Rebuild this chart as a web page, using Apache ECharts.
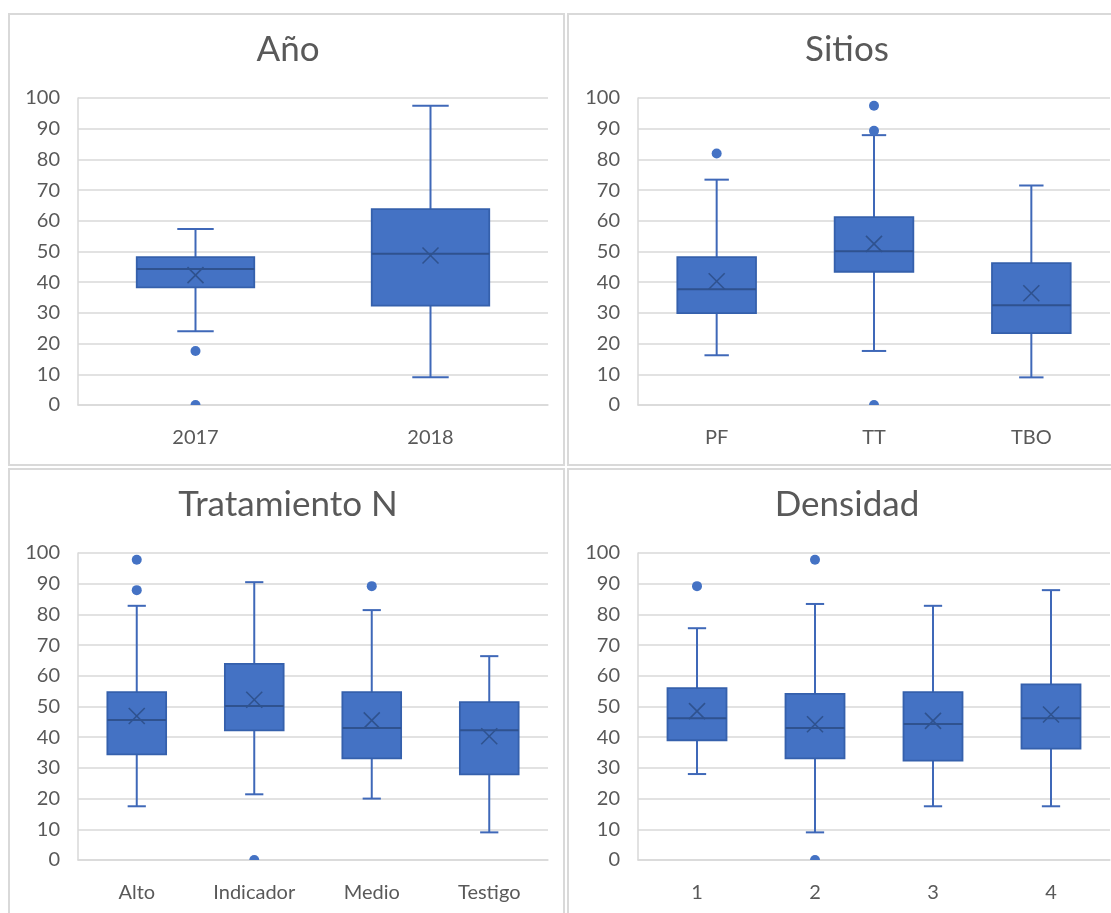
<!DOCTYPE html>
<html>
<head>
<meta charset="utf-8">
<script src="https://cdn.jsdelivr.net/npm/echarts@6/dist/echarts.min.js"></script>
<style>
  html, body { margin: 0; padding: 0; background: #fff; }
  #chart { width: 1111px; height: 913px; }
</style>
</head>
<body>
<div id="chart"></div>
<script>
// ---------- DATA ----------
const titles = ['Año', 'Sitios', 'Tratamiento N', 'Densidad'];
const yTicks = [0, 10, 20, 30, 40, 50, 60, 70, 80, 90, 100];

// Año
const anoCats = ['2017', '2018'];
const anoMin  = [24.0, 9.0];
const anoQ1   = [38.3, 32.4];
const anoMed  = [44.3, 49.3];
const anoQ3   = [48.2, 63.8];
const anoMax  = [57.3, 97.5];
const anoMean = [42.3, 48.7];
const anoOut  = [[0, 17.6], [0, 0]];

// Sitios
const sitCats = ['PF', 'TT', 'TBO'];
const sitMin  = [16.2, 17.6, 9.0];
const sitQ1   = [29.9, 43.4, 23.4];
const sitMed  = [37.7, 50.1, 32.5];
const sitQ3   = [48.2, 61.2, 46.2];
const sitMax  = [73.4, 87.9, 71.5];
const sitMean = [40.3, 52.5, 36.4];
const sitOut  = [[0, 81.9], [1, 97.5], [1, 89.3], [1, 0]];

// Tratamiento N
const traCats = ['Alto', 'Indicador', 'Medio', 'Testigo'];
const traMin  = [17.5, 21.4, 20.0, 9.0];
const traQ1   = [34.4, 42.2, 33.1, 27.9];
const traMed  = [45.6, 50.2, 43.0, 42.3];
const traQ3   = [54.7, 63.9, 54.7, 51.4];
const traMax  = [82.8, 90.5, 81.4, 66.4];
const traMean = [46.9, 52.2, 45.5, 40.3];
const traOut  = [[0, 97.8], [0, 87.9], [1, 0], [2, 89.2]];

// Densidad
const denCats = ['1', '2', '3', '4'];
const denMin  = [28.0, 9.0, 17.5, 17.5];
const denQ1   = [39.0, 33.1, 32.4, 36.3];
const denMed  = [46.2, 43.0, 44.3, 46.2];
const denQ3   = [56.0, 54.1, 54.7, 57.2];
const denMax  = [75.5, 83.4, 82.8, 87.9];
const denMean = [48.5, 44.2, 45.3, 47.4];
const denOut  = [[0, 89.2], [1, 97.8], [1, 0]];

// ---------- BUILD ----------
const panels = [
  { cats: anoCats, min: anoMin, q1: anoQ1, med: anoMed, q3: anoQ3, max: anoMax, mean: anoMean, out: anoOut },
  { cats: sitCats, min: sitMin, q1: sitQ1, med: sitMed, q3: sitQ3, max: sitMax, mean: sitMean, out: sitOut },
  { cats: traCats, min: traMin, q1: traQ1, med: traMed, q3: traQ3, max: traMax, mean: traMean, out: traOut },
  { cats: denCats, min: denMin, q1: denQ1, med: denMed, q3: denQ3, max: denMax, mean: denMean, out: denOut }
];

const FONT = 'Lato';
const TXT = '#595959';
const GRIDC = '#D9D9D9';
const FILL = '#4472C4';
const DARK = '#2F528F';
const WHISK = '#3F68B8';

const gridPos = [
  { left: 78,  top: 98,  width: 470, height: 307 },
  { left: 638, top: 98,  width: 472, height: 307 },
  { left: 78,  top: 553, width: 470, height: 307 },
  { left: 638, top: 553, width: 472, height: 307 }
];
const titlePos = [
  { x: 288, y: 51 }, { x: 847, y: 51 }, { x: 288, y: 506 }, { x: 847, y: 506 }
];

function renderBox(params, api) {
  const idx = api.value(0);
  const band = api.size([1, 0])[0];
  const bw = band * 0.5;
  const cw = band * 0.155;
  const pMin = api.coord([idx, api.value(1)]);
  const pQ1 = api.coord([idx, api.value(2)]);
  const pMed = api.coord([idx, api.value(3)]);
  const pQ3 = api.coord([idx, api.value(4)]);
  const pMax = api.coord([idx, api.value(5)]);
  const pMean = api.coord([idx, api.value(6)]);
  const x = pMin[0];
  const ws = { stroke: WHISK, lineWidth: 2 };
  const m = 8;
  return {
    type: 'group',
    children: [
      { type: 'line', shape: { x1: x, y1: pMax[1], x2: x, y2: pQ3[1] }, style: ws },
      { type: 'line', shape: { x1: x, y1: pQ1[1], x2: x, y2: pMin[1] }, style: ws },
      { type: 'line', shape: { x1: x - cw / 2, y1: pMax[1], x2: x + cw / 2, y2: pMax[1] }, style: ws },
      { type: 'line', shape: { x1: x - cw / 2, y1: pMin[1], x2: x + cw / 2, y2: pMin[1] }, style: ws },
      { type: 'rect', shape: { x: x - bw / 2, y: pQ3[1], width: bw, height: pQ1[1] - pQ3[1] },
        style: { fill: FILL, stroke: '#3560AC', lineWidth: 1.8 } },
      { type: 'line', shape: { x1: x - bw / 2, y1: pMed[1], x2: x + bw / 2, y2: pMed[1] },
        style: { stroke: DARK, lineWidth: 2 } },
      { type: 'line', shape: { x1: x - m, y1: pMean[1] - m, x2: x + m, y2: pMean[1] + m },
        style: { stroke: DARK, lineWidth: 1.6 } },
      { type: 'line', shape: { x1: x - m, y1: pMean[1] + m, x2: x + m, y2: pMean[1] - m },
        style: { stroke: DARK, lineWidth: 1.6 } }
    ]
  };
}

function renderOutlier(params, api) {
  const p = api.coord([api.value(0), api.value(1)]);
  return {
    type: 'circle',
    shape: { cx: p[0], cy: p[1], r: 5 },
    style: { fill: FILL }
  };
}

const option = {
  backgroundColor: '#fff',
  animation: false,
  title: titles.map((t, i) => ({
    text: t,
    left: titlePos[i].x,
    top: titlePos[i].y - 19,
    textAlign: 'center',
    padding: 0,
    textStyle: { fontFamily: FONT, fontSize: 35, fontWeight: 'normal', color: TXT }
  })),
  graphic: [
    { type: 'rect', shape: { x: 9, y: 14, width: 555, height: 451 }, style: { fill: 'none', stroke: GRIDC, lineWidth: 2 }, silent: true, z: -1 },
    { type: 'rect', shape: { x: 568, y: 14, width: 560, height: 451 }, style: { fill: 'none', stroke: GRIDC, lineWidth: 2 }, silent: true, z: -1 },
    { type: 'rect', shape: { x: 9, y: 469, width: 555, height: 470 }, style: { fill: 'none', stroke: GRIDC, lineWidth: 2 }, silent: true, z: -1 },
    { type: 'rect', shape: { x: 568, y: 469, width: 560, height: 470 }, style: { fill: 'none', stroke: GRIDC, lineWidth: 2 }, silent: true, z: -1 }
  ],
  grid: gridPos.map(g => Object.assign({ containLabel: false }, g)),
  xAxis: panels.map((p, i) => ({
    type: 'category',
    gridIndex: i,
    data: p.cats,
    axisLine: { lineStyle: { color: GRIDC, width: 1.5 } },
    axisTick: { show: false },
    axisLabel: { fontFamily: FONT, fontSize: 20, color: TXT, margin: 23 },
    splitLine: { show: false }
  })),
  yAxis: panels.map((p, i) => ({
    type: 'value',
    gridIndex: i,
    min: yTicks[0],
    max: yTicks[yTicks.length - 1],
    interval: 10,
    axisLine: { show: true, lineStyle: { color: GRIDC, width: 1.5 } },
    axisTick: { show: false },
    axisLabel: { fontFamily: FONT, fontSize: 20, color: TXT, margin: 18 },
    splitLine: { lineStyle: { color: GRIDC, width: 1.5 } }
  })),
  series: []
};

panels.forEach((p, i) => {
  option.series.push({
    type: 'custom',
    xAxisIndex: i,
    yAxisIndex: i,
    renderItem: renderBox,
    encode: { x: 0, y: [1, 2, 3, 4, 5, 6] },
    data: p.cats.map((c, k) => [k, p.min[k], p.q1[k], p.med[k], p.q3[k], p.max[k], p.mean[k]]),
    z: 3
  });
  option.series.push({
    type: 'custom',
    xAxisIndex: i,
    yAxisIndex: i,
    renderItem: renderOutlier,
    clip: true,
    encode: { x: 0, y: 1 },
    data: p.out,
    z: 4
  });
});

const chart = echarts.init(document.getElementById('chart'), null, { renderer: 'canvas' });
chart.setOption(option);
</script>
</body>
</html>
